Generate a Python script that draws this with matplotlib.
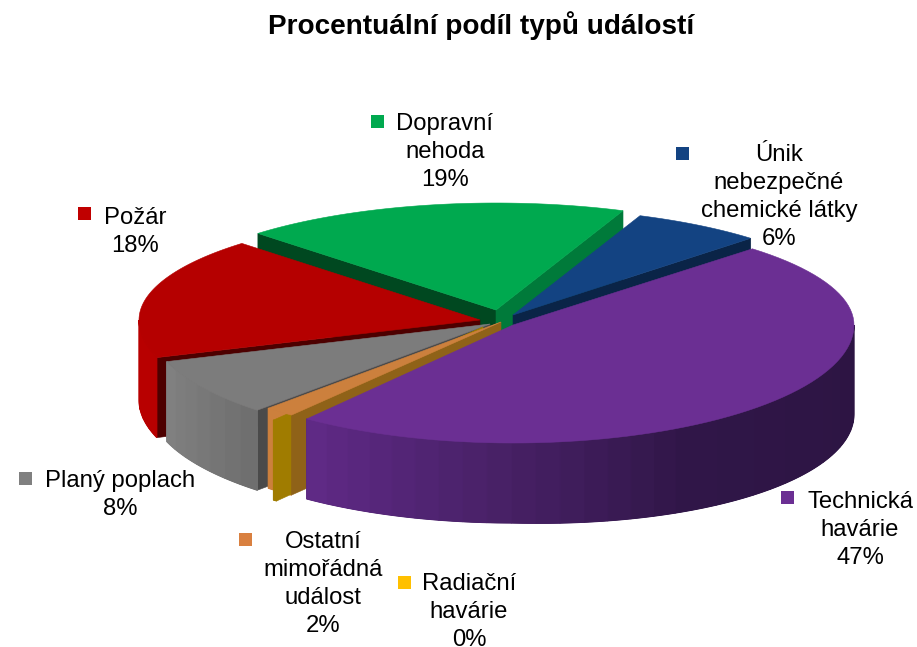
import numpy as np
import matplotlib
matplotlib.use("Agg")
import matplotlib.pyplot as plt
from matplotlib.patches import Polygon, Rectangle

plt.rcParams['font.family'] = ['Liberation Sans', 'DejaVu Sans']

title = "Procentuální podíl typů událostí"
categories = ["Technická havárie", "Radiační havárie", "Ostatní mimořádná událost",
              "Planý poplach", "Požár", "Dopravní nehoda", "Únik nebezpečné chemické látky"]
values = [47.4, 0.3, 1.7, 7.9, 17.9, 18.9, 5.9]
label_lines = [["Technická", "havárie"], ["Radiační", "havárie"],
               ["Ostatní", "mimořádná", "událost"], ["Planý poplach"], ["Požár"],
               ["Dopravní", "nehoda"], ["Únik", "nebezpečné", "chemické látky"]]

# layout (pixels of the figure)
START = -45.4
RX, RY_FRONT, RY_BACK, DEPTH, DEPTH_RIGHT = 341, 118, 107, 80, 9
# perspective: pie angle -> angle on screen
WARP_IN = [-45.4, 125.2, 126.3, 132.4, 225.0, 293.2, 314.6]
WARP_OUT = [-45.4, 127.2, 127.9, 133.0, 225.4, 291.7, 314.2]
apex = [(513, 325), (483, 327), (501, 322), (490, 324), (480, 320), (496, 310), (513, 315)]
top_col = ["#6B2F93", "#A07C00", "#CC803D", "#7C7C7C", "#B50000", "#00A94F", "#134382"]
wall0_col = ["#2A1240", "#A07C00", "#8F6218", "#4A4A4A", "#4D0000", "#004820", "#0A2447"]
wall1_col = ["#2A1240", "#A07C00", "#8F6218", "#4A4A4A", "#4D0000", "#007A3A", "#0A2447"]
arc_stops = {0: ([0, 60, 90, 127], [(44, 20, 66), (48, 22, 72), (70, 32, 100), (96, 42, 135)]),
             1: ([0, 180], [(160, 124, 0), (160, 124, 0)]),
             2: ([0, 180], [(204, 128, 61), (204, 128, 61)]),
             3: ([130, 162], [(108, 108, 108), (130, 130, 130)]),
             4: ([160, 180], [(184, 0, 0), (184, 0, 0)])}
key_col = ["#6B2F93", "#FFC000", "#D98040", "#808080", "#C00000", "#00A94F", "#134382"]
label_x = [860, 469, 323, 120, 135, 445, 779]
label_y = [502, 584, 542, 481, 218, 124, 155]
key_xy = [(781, 491), (398, 576), (239, 533), (19, 472), (78, 207), (371, 115), (676, 147)]
LINE_STEP = 28
FS = 17.2

fig = plt.figure(figsize=(9.17, 6.47), dpi=100)
ax = fig.add_axes([0, 0, 1, 1])
ax.set_xlim(0, 917)
ax.set_ylim(647, 0)
ax.axis('off')

sweeps = np.array(values) / sum(values) * 360
t0s = np.interp(START + np.concatenate([[0], np.cumsum(sweeps)[:-1]]), WARP_IN, WARP_OUT)
t1s = np.interp(START + np.cumsum(sweeps), WARP_IN, WARP_OUT)


def pt(t, i, down=False):
    r = np.radians(t)
    s = np.sin(r)
    c = np.cos(r)
    ry = RY_FRONT if s > 0 else RY_BACK
    dz = (DEPTH + DEPTH_RIGHT * max(c, 0)) if down else 0
    return (apex[i][0] + RX * c, apex[i][1] + ry * s + dz)


def poly(points, color, z, lw=0.4):
    ax.add_patch(Polygon(points, closed=True, facecolor=color, edgecolor=color,
                         linewidth=lw, zorder=z))


def top(i, z):
    ts = np.linspace(t0s[i], t1s[i], 80)
    poly([apex[i]] + [pt(t, i) for t in ts], top_col[i], z)


def walls(i, z):
    ax_, ay_ = apex[i]
    for t, col, vis in ((t0s[i], wall0_col[i], -np.cos(np.radians(t0s[i])) > 0),
                        (t1s[i], wall1_col[i], np.cos(np.radians(t1s[i])) > 0)):
        if vis:
            poly([(ax_, ay_), pt(t, i), pt(t, i, True), (ax_, ay_ + DEPTH)], col, z)


def arc_wall(i, z):
    if i not in arc_stops:
        return
    a, b = max(t0s[i], 0), min(t1s[i], 180)
    if a >= b:
        return
    xs, cs = arc_stops[i]
    cs = np.array(cs, float) / 255
    fine = np.linspace(a, b, 60)
    # solid underlay so that strip seams never show the background
    mid = [np.interp((a + b) / 2, xs, cs[:, k]) for k in range(3)]
    poly([pt(t, i) for t in fine] + [pt(t, i, True) for t in fine[::-1]], mid, z)
    ts = np.linspace(a, b, max(int((b - a) / 4), 1) + 1)
    for p, q in zip(ts[:-1], ts[1:]):
        m = (p + q) / 2
        col = [np.interp(m, xs, cs[:, k]) for k in range(3)]
        inner = np.linspace(p, q, 6)
        poly([pt(t, i) for t in inner] + [pt(t, i, True) for t in inner[::-1]], col, z, lw=0.8)


TECH, RAD, OST, PLA, POZ, DOP, UNIK = range(7)
z = 1
for step in [(walls, DOP), (top, DOP), (walls, UNIK), (top, UNIK),
             (walls, POZ), (arc_wall, POZ), (top, POZ),
             (walls, PLA), (arc_wall, PLA), (top, PLA),
             (arc_wall, OST), (walls, RAD), (arc_wall, RAD), (top, RAD),
             (walls, OST), (top, OST),
             (arc_wall, TECH), (top, TECH)]:
    step[0](step[1], z)
    z += 1

for i in range(len(categories)):
    lines = label_lines[i] + [f"{round(values[i])}%"]
    for n, line in enumerate(lines):
        ax.text(label_x[i], label_y[i] + n * LINE_STEP, line, ha='center', va='center',
                fontsize=FS, color='black', zorder=50)
    kx, ky = key_xy[i]
    ax.add_patch(Rectangle((kx, ky), 13, 13, facecolor=key_col[i], edgecolor='none', zorder=50))

ax.text(481.5, 26, title, ha='center', va='center', fontsize=20.05, fontweight='bold', color='black')

fig.savefig("out.png", dpi=100)
